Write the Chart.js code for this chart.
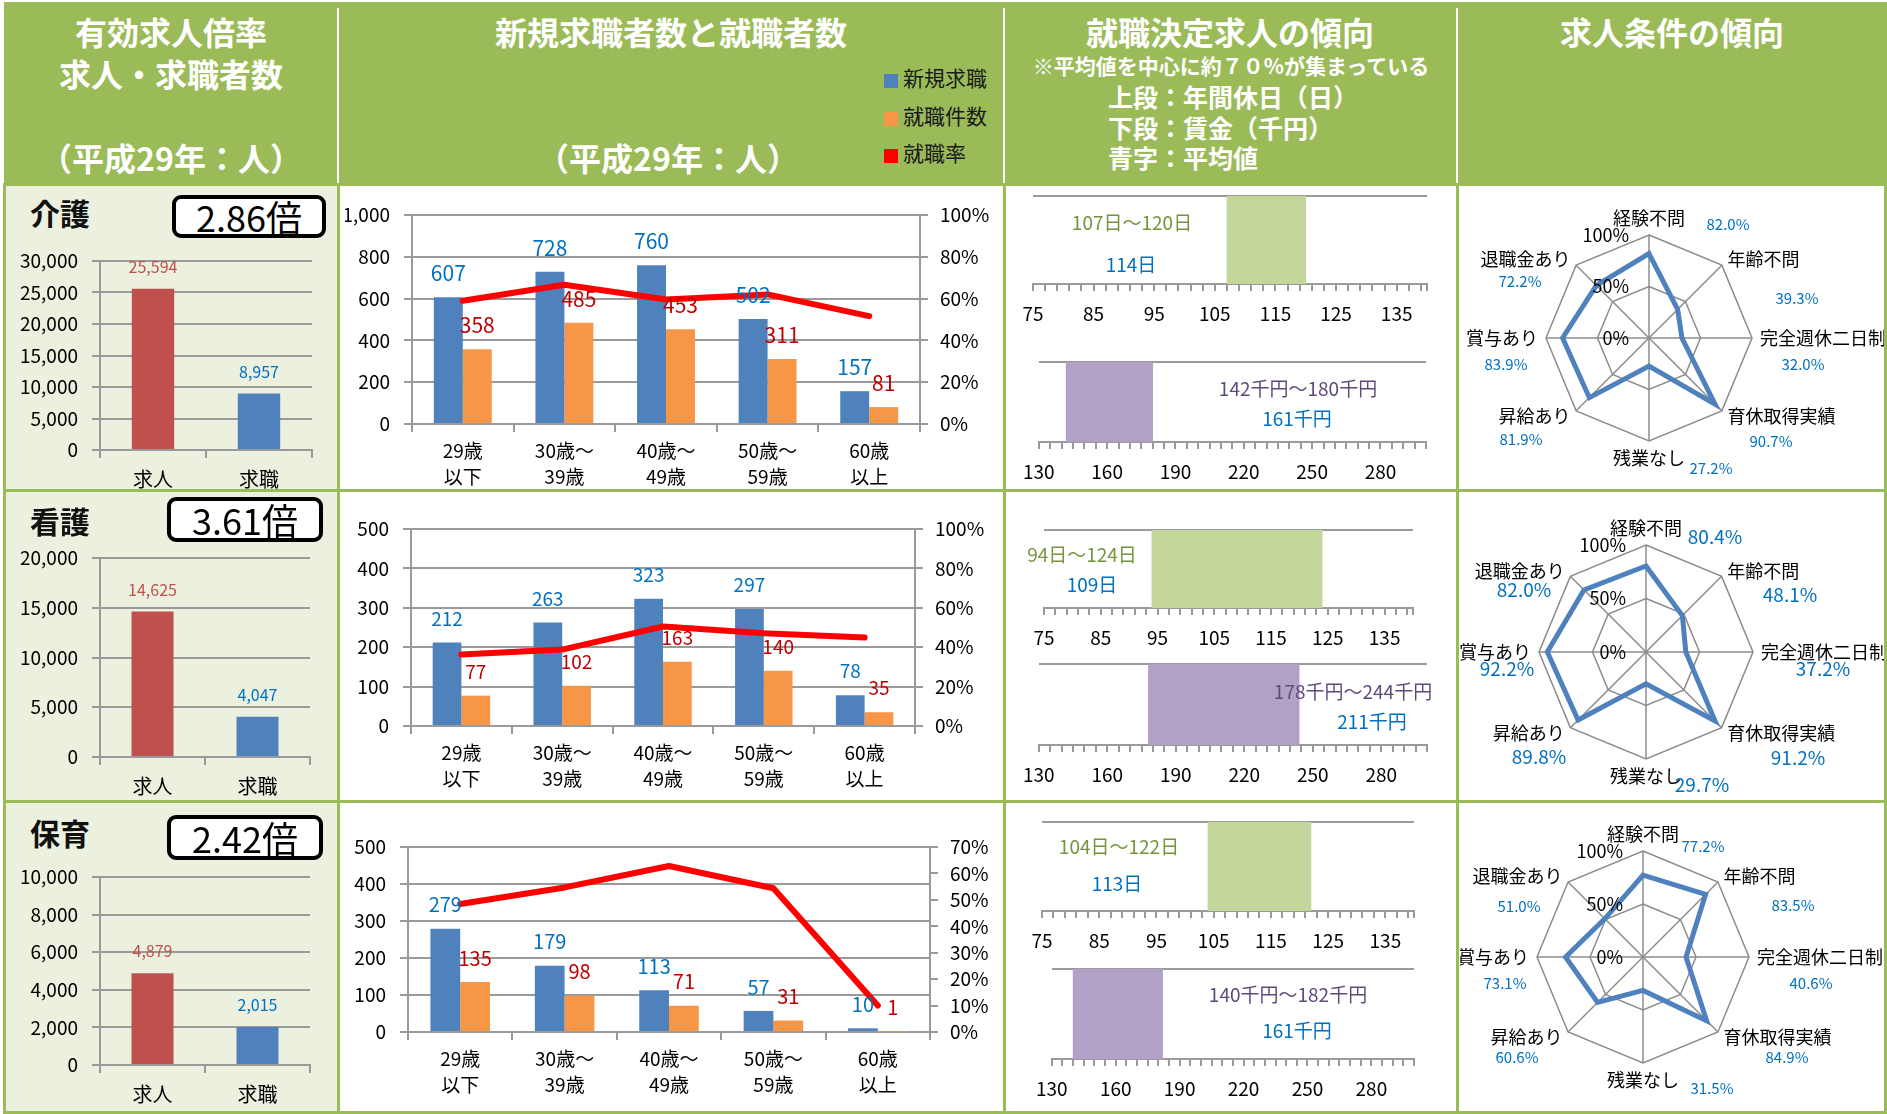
<!DOCTYPE html>
<html lang="ja">
<head>
<meta charset="utf-8">
<title>求人・求職の状況</title>
<script src="https://cdn.jsdelivr.net/npm/chart.js@4.4.1/dist/chart.umd.min.js"></script>
<style>
  body { margin: 0; background: #fff; }
  #page { position: relative; width: 1887px; height: 1114px; overflow: hidden; font-family: 'Noto Sans CJK JP', sans-serif; }
  .abs { position: absolute; }
  .head { left: 4px; top: 2px; width: 1883px; height: 181px; background: #9BBB59; }
  .hsep { top: 8px; width: 2px; height: 175px; background: #fff; }
  .ht { color: #fff; font-weight: bold; white-space: nowrap; line-height: 1; }
  .c { transform: translate(-50%, -50%); }
  .l { transform: translate(0, -50%); }
  .cellA { background: #EBF1DE; }
  .gl { background: #9BBB59; }
  .legsq { width: 14px; height: 14px; }
  .legtx { font-size: 21px; color: #1a1a1a; white-space: nowrap; line-height: 1; }
  .area { font-size: 30px; font-weight: bold; color: #111; line-height: 1; }
  .ratio { box-sizing: border-box; border: 4px solid #000; border-radius: 9px; background: #fff;
           font-size: 36px; text-align: center; color: #000; }
  .rtxt { font-size: 19px; white-space: nowrap; line-height: 1; }
  canvas { position: absolute; }
</style>
</head>
<body>
<div id="page">
  <div class="abs head"></div>
  <div class="abs hsep" style="left:337px"></div>
  <div class="abs hsep" style="left:1003px"></div>
  <div class="abs hsep" style="left:1456px"></div>

  <div class="abs ht c" style="left:171px; top:31px; font-size:32px">有効求人倍率</div>
  <div class="abs ht c" style="left:171px; top:73px; font-size:32px">求人・求職者数</div>
  <div class="abs ht c" style="left:171px; top:157px; font-size:32px">（平成29年：人）</div>

  <div class="abs ht c" style="left:671px; top:31px; font-size:32px">新規求職者数と就職者数</div>
  <div class="abs ht c" style="left:668px; top:157px; font-size:32px">（平成29年：人）</div>
  <div class="abs legsq" style="left:884px; top:74px; background:#4F81BD"></div>
  <div class="abs legtx l" style="left:903px; top:77px">新規求職</div>
  <div class="abs legsq" style="left:884px; top:112px; background:#F79646"></div>
  <div class="abs legtx l" style="left:903px; top:115px">就職件数</div>
  <div class="abs legsq" style="left:884px; top:149px; background:#FF0000"></div>
  <div class="abs legtx l" style="left:903px; top:152px">就職率</div>

  <div class="abs ht c" style="left:1230px; top:31px; font-size:32px">就職決定求人の傾向</div>
  <div class="abs ht c" style="left:1231px; top:65px; font-size:21px">※平均値を中心に約７０%が集まっている</div>
  <div class="abs ht l" style="left:1108px; top:96px; font-size:25px">上段：年間休日（日）</div>
  <div class="abs ht l" style="left:1108px; top:127px; font-size:25px">下段：賃金（千円）</div>
  <div class="abs ht l" style="left:1108px; top:157px; font-size:25px">青字：平均値</div>

  <div class="abs ht c" style="left:1672px; top:31px; font-size:32px">求人条件の傾向</div>
</div>

<script>
// ---- datos ----
const areas = ['介護', '看護', '保育'];
const ratios = [2.86, 3.61, 2.42];

const supplyLabels = ['求人', '求職'];
const kaigoSupply = [25594, 8957];
const kangoSupply = [14625, 4047];
const hoikuSupply = [4879, 2015];
const supplyMax = [30000, 20000, 10000];
const supplyStep = [5000, 5000, 2000];

const ageLabels = [['29歳', '以下'], ['30歳～', '39歳'], ['40歳～', '49歳'], ['50歳～', '59歳'], ['60歳', '以上']];
const kaigoNew = [607, 728, 760, 502, 157];
const kaigoHired = [358, 485, 453, 311, 81];
const kaigoRate = [59.0, 66.6, 59.6, 62.0, 51.6];
const kangoNew = [212, 263, 323, 297, 78];
const kangoHired = [77, 102, 163, 140, 35];
const kangoRate = [36.3, 38.8, 50.5, 47.1, 44.9];
const hoikuNew = [279, 179, 113, 57, 10];
const hoikuHired = [135, 98, 71, 31, 1];
const hoikuRate = [48.4, 54.7, 62.8, 54.4, 10.0];
const jobMax = [1000, 500, 500];
const jobStep = [200, 100, 100];
const rateMax = [100, 100, 70];
const rateStep = [20, 20, 10];

const holidayRanges = [[107, 120], [94, 124], [104, 122]];
const holidayMeans = [114, 109, 113];
const wageRanges = [[142, 180], [178, 244], [140, 182]];
const wageMeans = [161, 211, 161];

const conditionLabels = ['経験不問', '年齢不問', '完全週休二日制', '育休取得実績', '残業なし', '昇給あり', '賞与あり', '退職金あり'];
const kaigoConditions = [82.0, 39.3, 32.0, 90.7, 27.2, 81.9, 83.9, 72.2];
const kangoConditions = [80.4, 48.1, 37.2, 91.2, 29.7, 89.8, 92.2, 82.0];
const hoikuConditions = [77.2, 83.5, 40.6, 84.9, 31.5, 60.6, 73.1, 51.0];

const supplyData = [kaigoSupply, kangoSupply, hoikuSupply];
const newData = [kaigoNew, kangoNew, hoikuNew];
const hiredData = [kaigoHired, kangoHired, hoikuHired];
const rateData = [kaigoRate, kangoRate, hoikuRate];
const conditionData = [kaigoConditions, kangoConditions, hoikuConditions];

// ---- maquetación (px en la página) ----
const rowTops = [184, 491, 802];
const rowBottoms = [489, 800, 1111];
const titleY = [212, 520, 832];
const ratioBoxes = [[172, 195, 154, 43], [167, 497, 156, 45], [167, 815, 156, 45]];
const supplyPlots = [[100, 312, 261, 450], [100, 310, 558, 757], [100, 310, 877, 1065]];
const jobPlots = [[412, 920, 215, 424], [411, 915, 529, 726], [408, 930, 847, 1032]];
const jobLabelFont = [21, 19, 20];
const holidayPlots = [[1033, 1427, 196, 284], [1044, 1413, 530, 608], [1042, 1414, 822, 911]];
const wagePlots = [[1037, 1426, 362, 442], [1037, 1427, 664, 745], [1050, 1414, 969, 1059]];
const rangeTextPos = [
  [[1132, 221], [1131, 263], [1298, 387], [1297, 417]],
  [[1082, 553], [1092, 583], [1353, 690], [1372, 720]],
  [[1119, 845], [1117, 882], [1288, 993], [1297, 1029]]
];
// centro x, centro y, radio del radar
const radarGeom = [[1649, 338, 103], [1646, 652, 107], [1643, 957, 106]];
const pctOffsets = [
  [[79, -114], [148, -40], [154, 26], [122, 103], [62, 130], [-128, 101], [-143, 26], [-129, -57]],
  [[69, -115], [144, -57], [177, 17], [152, 106], [56, 133], [-107, 105], [-139, 17], [-122, -62]],
  [[60, -111], [150, -52], [168, 26], [144, 100], [69, 131], [-126, 100], [-138, 26], [-124, -51]]
];
const pctFont = [15, 19, 15];

const GRAY = '#9A9A9A';
const BLUE_TXT = '#0070C0';
const FONT = "'Noto Sans CJK JP', sans-serif";
const page = document.getElementById('page');

Chart.defaults.font.family = FONT;
Chart.defaults.color = '#000';
Chart.defaults.animation = false;
Chart.defaults.responsive = false;
Chart.defaults.plugins.legend.display = false;
Chart.defaults.plugins.tooltip.enabled = false;

function addDiv(cls, css, text) {
  const d = document.createElement('div');
  d.className = 'abs ' + cls;
  d.style.cssText = css;
  if (text !== undefined) d.textContent = text;
  page.appendChild(d);
  return d;
}

// canvas colocado para que el área de trazado coincida con rect [x0, x1, y0, y1]
function makeCanvas(rect, pad) {
  const c = document.createElement('canvas');
  const w = rect[1] - rect[0] + pad[0] + pad[1];
  const h = rect[3] - rect[2] + pad[2] + pad[3];
  c.width = w;
  c.height = h;
  c.style.left = (rect[0] - pad[0]) + 'px';
  c.style.top = (rect[2] - pad[2]) + 'px';
  c.style.width = w + 'px';
  c.style.height = h + 'px';
  page.appendChild(c);
  return c.getContext('2d');
}

// etiquetas de valor encima de las barras
const valueLabels = {
  id: 'valueLabels',
  afterDatasetsDraw(chart, args, opts) {
    const ctx = chart.ctx;
    chart.data.datasets.forEach((ds, i) => {
      if (!ds.labelColor) return;
      chart.getDatasetMeta(i).data.forEach((bar, j) => {
        ctx.save();
        ctx.font = opts.size + 'px ' + FONT;
        ctx.fillStyle = Array.isArray(ds.labelColor) ? ds.labelColor[j] : ds.labelColor;
        ctx.textAlign = 'center';
        ctx.textBaseline = 'middle';
        ctx.fillText(ds.data[j].toLocaleString('en-US'), bar.x, bar.y - opts.offset);
        ctx.restore();
      });
    });
  }
};

// nombres de los ejes, rótulos 0%/50%/100% y porcentajes azules del radar
const radarExtras = {
  id: 'radarExtras',
  afterDraw(chart, args, opts) {
    const r = chart.scales.r;
    const ctx = chart.ctx;
    ctx.save();
    ctx.font = '18px ' + FONT;
    ctx.fillStyle = '#000';
    chart.data.labels.forEach((lab, i) => {
      const p = r.getPointPosition(i, r.drawingArea + 8);
      const deg = Math.round(r.getIndexAngle(i) * 180 / Math.PI) % 360;
      ctx.textAlign = (deg === 0 || deg === 180) ? 'center' : (deg < 180 ? 'left' : 'right');
      ctx.textBaseline = deg === 0 ? 'bottom' : (deg === 180 ? 'top' : 'middle');
      ctx.fillText(lab, p.x, p.y);
    });
    ctx.textAlign = 'right';
    ctx.textBaseline = 'middle';
    [0, 50, 100].forEach(v => {
      ctx.fillText(v + '%', r.xCenter - 20, r.yCenter - r.getDistanceFromCenterForValue(v));
    });
    ctx.font = opts.size + 'px ' + FONT;
    ctx.fillStyle = BLUE_TXT;
    ctx.textAlign = 'center';
    const vals = chart.data.datasets[0].data;
    opts.offsets.forEach((o, i) => {
      ctx.fillText(vals[i].toFixed(1) + '%', r.xCenter + o[0], r.yCenter + o[1]);
    });
    ctx.restore();
  }
};

function supplyChart(row) {
  const ctx = makeCanvas(supplyPlots[row], [90, 18, 28, 50]);
  new Chart(ctx, {
    type: 'bar',
    data: {
      labels: supplyLabels,
      datasets: [{
        data: supplyData[row],
        backgroundColor: ['#C0504D', '#4F81BD'],
        labelColor: ['#C0504D', BLUE_TXT],
        categoryPercentage: 1,
        barPercentage: 0.4
      }]
    },
    options: {
      locale: 'en-US',
      devicePixelRatio: 1,
      layout: { padding: { top: 28, right: 18 } },
      plugins: { valueLabels: { size: 16, offset: 22 } },
      scales: {
        x: {
          grid: { offset: true, drawOnChartArea: false, tickLength: 8, color: GRAY, lineWidth: 2 },
          border: { color: GRAY, width: 2 },
          ticks: { font: { size: 20 }, padding: 9, maxRotation: 0 },
          afterFit: s => { s.height = 50; }
        },
        y: {
          min: 0, max: supplyMax[row],
          ticks: { stepSize: supplyStep[row], font: { size: 19 }, padding: 14 },
          grid: { color: GRAY, lineWidth: 2, tickLength: 8 },
          border: { color: GRAY, width: 2 },
          afterFit: s => { s.width = 90; }
        }
      }
    },
    plugins: [valueLabels]
  });
}

function jobChart(row) {
  const ctx = makeCanvas(jobPlots[row], [67, 70, 28, 70]);
  new Chart(ctx, {
    type: 'bar',
    data: {
      labels: ageLabels,
      datasets: [
        { type: 'line', data: rateData[row], yAxisID: 'y1', borderColor: '#FF0000', borderWidth: 6,
          pointRadius: 0, fill: false, borderCapStyle: 'round', borderJoinStyle: 'round', order: 0 },
        { data: newData[row], backgroundColor: '#4F81BD', labelColor: BLUE_TXT,
          categoryPercentage: 0.57, barPercentage: 1, order: 1 },
        { data: hiredData[row], backgroundColor: '#F79646', labelColor: '#C00000',
          categoryPercentage: 0.57, barPercentage: 1, order: 1 }
      ]
    },
    options: {
      locale: 'en-US',
      devicePixelRatio: 1,
      layout: { padding: { top: 28 } },
      plugins: { valueLabels: { size: jobLabelFont[row], offset: 24 } },
      scales: {
        x: {
          grid: { offset: true, drawOnChartArea: false, tickLength: 8, color: GRAY, lineWidth: 2 },
          border: { color: GRAY, width: 2 },
          ticks: { font: { size: 19, lineHeight: 1.35 }, padding: 6, maxRotation: 0, autoSkip: false },
          afterFit: s => { s.height = 70; }
        },
        y: {
          position: 'left', min: 0, max: jobMax[row],
          ticks: { stepSize: jobStep[row], font: { size: 19 }, padding: 14 },
          grid: { color: GRAY, lineWidth: 2, tickLength: 8 },
          border: { color: GRAY, width: 2 },
          afterFit: s => { s.width = 67; }
        },
        y1: {
          position: 'right', min: 0, max: rateMax[row],
          ticks: { stepSize: rateStep[row], font: { size: 19 }, padding: 12, callback: v => v + '%' },
          grid: { drawOnChartArea: false, color: GRAY, lineWidth: 2, tickLength: 8 },
          border: { color: GRAY, width: 2 },
          afterFit: s => { s.width = 70; }
        }
      }
    },
    plugins: [valueLabels]
  });
}

function rangeChart(rect, range, color, min, max, minor, major) {
  const ctx = makeCanvas(rect, [25, 25, 6, 45]);
  new Chart(ctx, {
    type: 'bar',
    data: {
      labels: [''],
      datasets: [{ data: [range], backgroundColor: color, barPercentage: 1, categoryPercentage: 1 }]
    },
    options: {
      indexAxis: 'y',
      devicePixelRatio: 1,
      layout: { padding: { left: 25, right: 25, top: 6 } },
      scales: {
        x: {
          min: min, max: max,
          afterBuildTicks: s => {
            const t = [];
            for (let v = min; v < max; v += minor) t.push({ value: v });
            t.push({ value: max });
            s.ticks = t;
          },
          ticks: {
            autoSkip: false, maxRotation: 0, font: { size: 19 }, padding: 11,
            callback: v => ((v - min) % major === 0 && v < max ? String(v) : '')
          },
          grid: { drawOnChartArea: false, tickLength: 7, color: GRAY, lineWidth: 2 },
          border: { color: GRAY, width: 2 },
          afterFit: s => { s.height = 45; }
        },
        y: {
          ticks: { display: false },
          grid: { offset: true, drawTicks: false, color: GRAY, lineWidth: 2 },
          border: { display: false },
          afterFit: s => { s.width = 0; }
        }
      }
    }
  });
}

function conditionChart(row) {
  const g = radarGeom[row];
  const rect = [g[0] - g[2], g[0] + g[2], g[1] - g[2], g[1] + g[2]];
  const pad = [rect[0] - 1460, 1887 - rect[1], rect[2] - (rowTops[row] + 3), rowBottoms[row] - rect[3]];
  const ctx = makeCanvas(rect, pad);
  new Chart(ctx, {
    type: 'radar',
    data: {
      labels: conditionLabels,
      datasets: [{ data: conditionData[row], borderColor: '#4F81BD', borderWidth: 5, pointRadius: 0,
        fill: false, backgroundColor: 'rgba(0,0,0,0)' }]
    },
    options: {
      devicePixelRatio: 1,
      layout: { padding: { left: pad[0], right: pad[1], top: pad[2], bottom: pad[3] } },
      plugins: { radarExtras: { size: pctFont[row], offsets: pctOffsets[row] } },
      scales: {
        r: {
          min: 0, max: 100,
          ticks: { stepSize: 50, display: false },
          grid: { color: '#8C8C8C', lineWidth: 1.5 },
          angleLines: { color: '#8C8C8C', lineWidth: 1.5 },
          pointLabels: { display: false }
        }
      }
    },
    plugins: [radarExtras]
  });
}

// fondos de la primera columna
rowTops.forEach((top, i) => {
  addDiv('cellA', `left:6px; top:${top}px; width:331px; height:${rowBottoms[i] - top}px`);
});

rowTops.forEach((top, i) => {
  addDiv('area l', `left:30px; top:${titleY[i]}px`, areas[i]);
  const b = ratioBoxes[i];
  addDiv('ratio', `left:${b[0]}px; top:${b[1]}px; width:${b[2]}px; height:${b[3]}px; line-height:${b[3] - 8}px`,
    ratios[i].toFixed(2) + '倍');

  supplyChart(i);
  jobChart(i);
  rangeChart(holidayPlots[i], holidayRanges[i], '#C3D69B', 75, 140, 2, 10);
  rangeChart(wagePlots[i], wageRanges[i], '#B2A1C7', 130, 300, 5, 30);
  conditionChart(i);

  const p = rangeTextPos[i];
  addDiv('rtxt c', `left:${p[0][0]}px; top:${p[0][1]}px; color:#77933C`,
    `${holidayRanges[i][0]}日～${holidayRanges[i][1]}日`);
  addDiv('rtxt c', `left:${p[1][0]}px; top:${p[1][1]}px; color:${BLUE_TXT}`, `${holidayMeans[i]}日`);
  addDiv('rtxt c', `left:${p[2][0]}px; top:${p[2][1]}px; color:#604A7B`,
    `${wageRanges[i][0]}千円～${wageRanges[i][1]}千円`);
  addDiv('rtxt c', `left:${p[3][0]}px; top:${p[3][1]}px; color:${BLUE_TXT}`, `${wageMeans[i]}千円`);
});

// líneas de la cuadrícula de la tabla
[183, 489, 800, 1111].forEach(y => addDiv('gl', `left:3px; top:${y}px; width:1884px; height:3px`));
[3, 337, 1003, 1456, 1884].forEach(x => addDiv('gl', `left:${x}px; top:183px; width:3px; height:931px`));
</script>
</body>
</html>
